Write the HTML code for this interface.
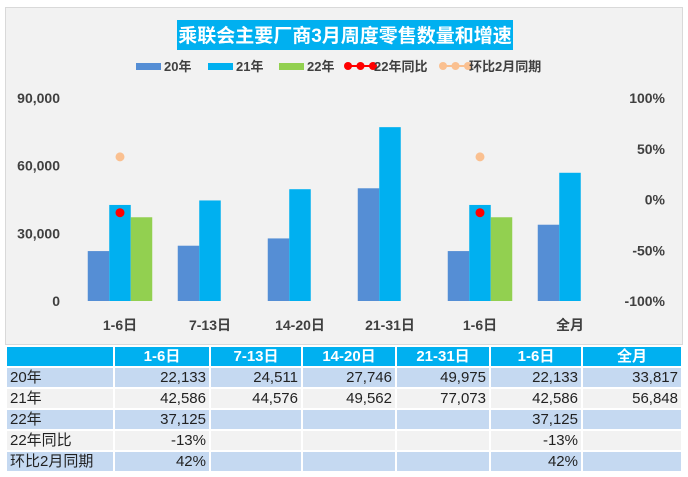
<!DOCTYPE html>
<html><head><meta charset="utf-8"><style>
body{margin:0;width:688px;height:477px;background:#fff;font-family:"Liberation Sans","Noto Sans CJK SC",sans-serif;position:relative;overflow:hidden}
#panel{position:absolute;left:5px;top:7px;width:676px;height:336px;background:#f2f2f2;border:1px solid #d9d9d9}
table{position:absolute;left:5px;top:345px;border-collapse:collapse;font-size:15px;color:#222;table-layout:fixed;width:676px}
td{height:19px;line-height:19px;padding:0 3px;border:2px solid #fff;text-align:right;white-space:nowrap;overflow:hidden}
td:first-child{text-align:left}
tr.h td{background:#00b0f0;color:#fff;font-weight:bold;text-align:center;height:19px}
tr.a td{background:#c5d9f1}
tr.b td{background:#f2f2f2}
</style></head><body>
<div id="panel"></div>
<svg id="c" width="688" height="345" style="position:absolute;left:0;top:0"></svg>
<table>
<colgroup><col style="width:108px"><col style="width:96px"><col style="width:92px"><col style="width:94px"><col style="width:94px"><col style="width:92px"><col style="width:100px"></colgroup>
<tr class="h"><td></td><td>1-6日</td><td>7-13日</td><td>14-20日</td><td>21-31日</td><td>1-6日</td><td>全月</td></tr>
<tr class="a"><td>20年</td><td>22,133</td><td>24,511</td><td>27,746</td><td>49,975</td><td>22,133</td><td>33,817</td></tr>
<tr class="b"><td>21年</td><td>42,586</td><td>44,576</td><td>49,562</td><td>77,073</td><td>42,586</td><td>56,848</td></tr>
<tr class="a"><td>22年</td><td>37,125</td><td></td><td></td><td></td><td>37,125</td><td></td></tr>
<tr class="b"><td>22年同比</td><td>-13%</td><td></td><td></td><td></td><td>-13%</td><td></td></tr>
<tr class="a"><td>环比2月同期</td><td>42%</td><td></td><td></td><td></td><td>42%</td><td></td></tr>
</table>
<script>
const categories=["1-6日","7-13日","14-20日","21-31日","1-6日","全月"];
const s20=[22133,24511,27746,49975,22133,33817];
const s21=[42586,44576,49562,77073,42586,56848];
const s22=[37125,null,null,null,37125,null];
const yoy=[-13,null,null,null,-13,null];
const mom=[42,null,null,null,42,null];
const leftTicks=[0,30000,60000,90000];
const rightTicks=[-100,-50,0,50,100];
const NS="http://www.w3.org/2000/svg",svg=document.getElementById('c');
const X0=75,CW=90,Y0=301,Y1=98,BW=21.5;
const yL=v=>Y0-(v/90000)*(Y0-Y1);
const yR=v=>Y0-((v+100)/200)*(Y0-Y1);
const xc=i=>X0+CW*i+CW/2;
function el(t,a,txt){const e=document.createElementNS(NS,t);for(const k in a)e.setAttribute(k,a[k]);if(txt!=null)e.textContent=txt;svg.appendChild(e);return e;}
let r=el('rect',{x:177,y:20,width:336,height:30,fill:'#00b0f0'});

let t=el('text',{x:345,y:42,'text-anchor':'middle',fill:'#fff','font-size':19,'font-weight':'bold'},'乘联会主要厂商3月周度零售数量和增速');

const lg=[['20年','#558ed5',136,'bar'],['21年','#00b0f0',208,'bar'],['22年','#92d050',279,'bar'],['22年同比','#ff0000',348,'line'],['环比2月同期','#fac090',443,'line']];
lg.forEach(l=>{
 let g;
 if(l[3]=='bar'){g=el('rect',{x:l[2],y:63,width:25,height:7,fill:l[1]});}
 else{g=el('line',{x1:l[2],y1:66,x2:l[2]+25,y2:66,stroke:l[1],'stroke-width':2});[0,12.5,25].forEach(d=>el('circle',{cx:l[2]+d,cy:66,r:4,fill:l[1]}));}
 
 let tx=el('text',{x:l[2]+(l[3]=='bar'?28:26),y:71,'font-size':13,'font-weight':'bold',fill:'#404040'},l[0]);
 
});
leftTicks.forEach(v=>{let e=el('text',{x:60,y:yL(v)+5,'text-anchor':'end','font-size':14,'font-weight':'bold',fill:'#404040'},v.toLocaleString('en-US'));
 });
rightTicks.forEach(v=>{let e=el('text',{x:665,y:yR(v)+5,'text-anchor':'end','font-size':14,'font-weight':'bold',fill:'#404040'},v+'%');
 });
categories.forEach((c,i)=>{
 const cx=xc(i);
 [[s20,'#558ed5',-1.5],[s21,'#00b0f0',-0.5],[s22,'#92d050',0.5]].forEach(s=>{
  const v=s[0][i];if(v==null)return;
  let b=el('rect',{x:cx+s[2]*BW,y:yL(v),width:BW,height:Y0-yL(v),fill:s[1]});
  
 });
 if(yoy[i]!=null){let p=el('circle',{cx:cx,cy:yR(yoy[i]),r:4.5,fill:'#ff0000'});}
 if(mom[i]!=null){let p=el('circle',{cx:cx,cy:yR(mom[i]),r:4.5,fill:'#fac090'});}
 let l=el('text',{x:cx,y:330,'text-anchor':'middle','font-size':14,'font-weight':'bold',fill:'#404040'},c);
 
});
</script>
</body></html>
